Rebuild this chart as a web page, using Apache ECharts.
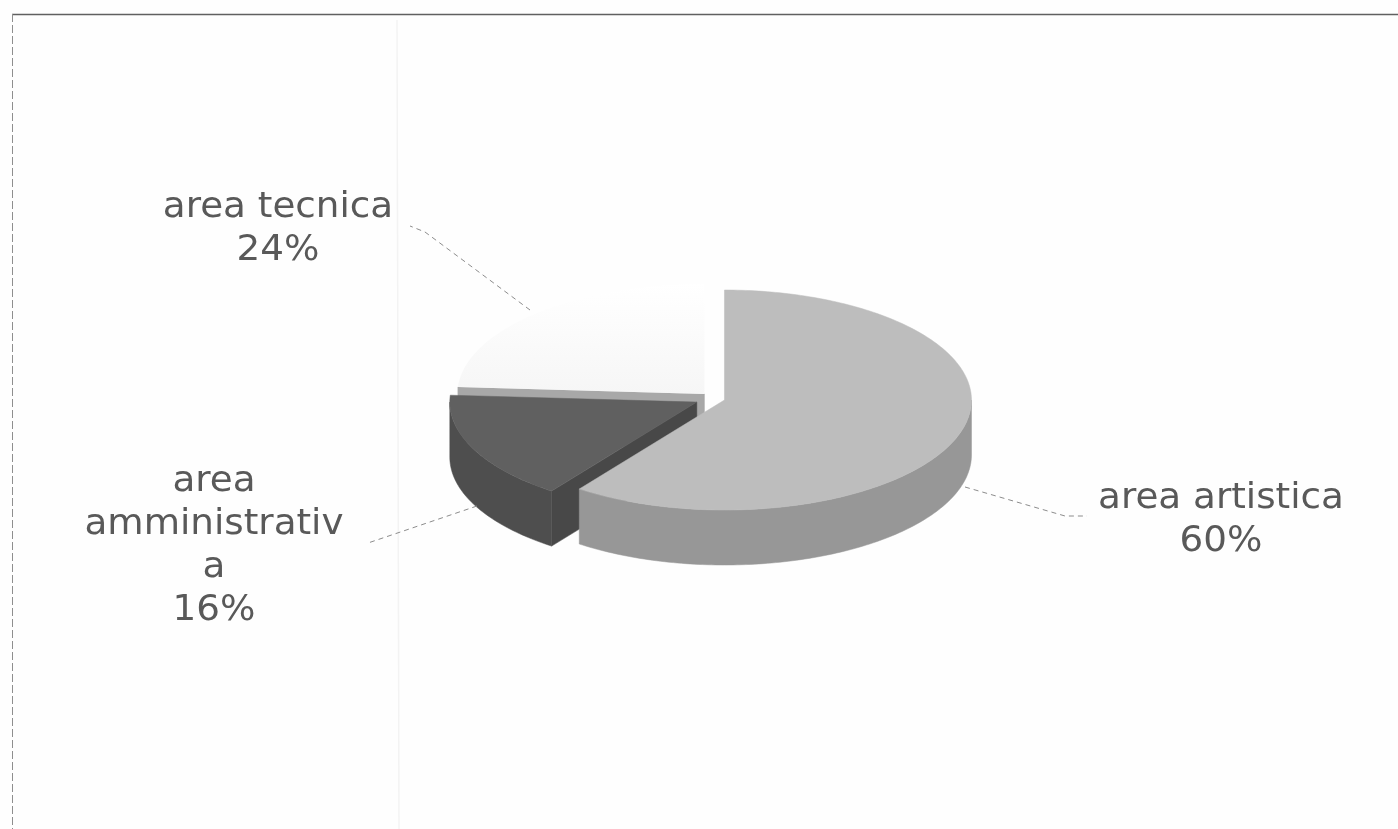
<!DOCTYPE html>
<html>
<head>
<meta charset="utf-8">
<style>html,body{margin:0;padding:0;background:#fff}#c{width:1398px;height:829px}</style>
<script src="https://cdn.jsdelivr.net/npm/echarts@6/dist/echarts.min.js"></script>
</head>
<body>
<div id="c"></div>
<script>
const categories = ['area artistica', 'area amministrativa', 'area tecnica'];
const percentValues = [60, 16, 24];
const labelLines = [['area artistica'], ['area', 'amministrativ', 'a'], ['area tecnica']];

const PIE = {cx: 714, cy: 398.5, rx: 247, ry: 110, depth: 55};
const EXPLODE = [11, 19, 14];
const TOP_COL = ['#bdbdbd', '#606060',
  {type: 'linear', x: 0, y: 0, x2: 0, y2: 1, colorStops: [{offset: 0, color: '#ffffff'}, {offset: 1, color: '#f6f6f6'}]}];
const SIDE_COL = ['#979797', '#4e4e4e', '#a8a8a8'];
const FACE_COL = ['#979797', '#484848', '#a8a8a8'];
const LABEL_POS = [[1221, 499], [214, 482], [278, 208]];
const LEADERS = [
  [[965, 487], [1065, 516], [1087, 516]],
  [[477, 506], [368, 543]],
  [[530, 310], [425, 232], [410, 226]]
];
const total = percentValues.reduce((a, b) => a + b, 0);
const rad = d => d * Math.PI / 180;

function renderSlice(params, api) {
  const i = params.dataIndex;
  const value = api.value(0);
  let start = 0;
  for (let k = 0; k < i; k++) start += percentValues[k] / total * 360;
  const end = start + value / total * 360;
  const mid = rad((start + end) / 2);
  const ax = PIE.cx + EXPLODE[i] * Math.sin(mid);
  const ay = PIE.cy - EXPLODE[i] * Math.cos(mid) * PIE.ry / PIE.rx;
  const pt = (t, dz) => [ax + PIE.rx * Math.sin(rad(t)), ay - PIE.ry * Math.cos(rad(t)) + (dz || 0)];
  const arc = (a, b, dz) => {
    const out = [];
    const n = Math.max(2, Math.ceil(Math.abs(b - a)));
    for (let k = 0; k <= n; k++) out.push(pt(a + (b - a) * k / n, dz));
    return out;
  };
  const z = 30 - i * 10;
  const children = [];
  const poly = (points, fill, z2) => children.push({
    type: 'polygon', z2, shape: {points}, style: {fill, stroke: typeof fill === 'string' ? fill : 'none', lineWidth: 0.5}
  });
  if (Math.sin(rad(start)) < 0) {
    const p = pt(start);
    poly([[ax, ay], p, [p[0], p[1] + PIE.depth], [ax, ay + PIE.depth]], FACE_COL[i], z);
  }
  if (Math.sin(rad(end)) > 0) {
    const p = pt(end);
    poly([[ax, ay], p, [p[0], p[1] + PIE.depth], [ax, ay + PIE.depth]], FACE_COL[i], z);
  }
  const a = Math.max(start, 90), b = Math.min(end, 270);
  if (b > a) poly(arc(a, b, 0).concat(arc(b, a, PIE.depth)), SIDE_COL[i], z + 1);
  poly([[ax, ay]].concat(arc(start, end, 0)), TOP_COL[i], z + 2);
  return {type: 'group', children};
}

function renderLabel(params, api) {
  const i = params.dataIndex;
  const lines = labelLines[i].concat([api.value(0) + '%']);
  return {
    type: 'group',
    children: lines.map((t, k) => ({
      type: 'text', z2: 50,
      x: LABEL_POS[i][0], y: LABEL_POS[i][1] + k * 43, scaleX: 1.065,
      style: {
        x: 0, y: 0, text: t,
        fill: '#595959', font: '35px "DejaVu Sans"', align: 'center', verticalAlign: 'middle'
      }
    })).concat([{
      type: 'polyline', z2: 49,
      shape: {points: LEADERS[i]},
      style: {fill: 'none', stroke: '#8c8c8c', lineWidth: 1, lineDash: [5, 4]}
    }])
  };
}

const chart = echarts.init(document.getElementById('c'));
chart.setOption({
  animation: false,
  backgroundColor: '#fefefe',
  graphic: [
    {type: 'line', shape: {x1: 12, y1: 14.5, x2: 1398, y2: 14.5}, style: {stroke: '#606060', lineWidth: 1.5}},
    {type: 'line', shape: {x1: 12.5, y1: 14, x2: 12.5, y2: 829}, style: {stroke: '#8e8e8e', lineWidth: 1, lineDash: [8, 3]}},
    {type: 'line', shape: {x1: 397, y1: 20, x2: 399, y2: 829}, style: {stroke: '#f3f3f3', lineWidth: 1.5}}
  ],
  series: [
    {
      type: 'custom', name: 'slices', coordinateSystem: 'none',
      data: percentValues.map((v, i) => ({name: categories[i], value: [v]})),
      renderItem: renderSlice
    },
    {
      type: 'custom', name: 'labels', coordinateSystem: 'none',
      data: percentValues.map((v, i) => ({name: categories[i], value: [v]})),
      renderItem: renderLabel
    }
  ]
});
</script>
</body>
</html>
